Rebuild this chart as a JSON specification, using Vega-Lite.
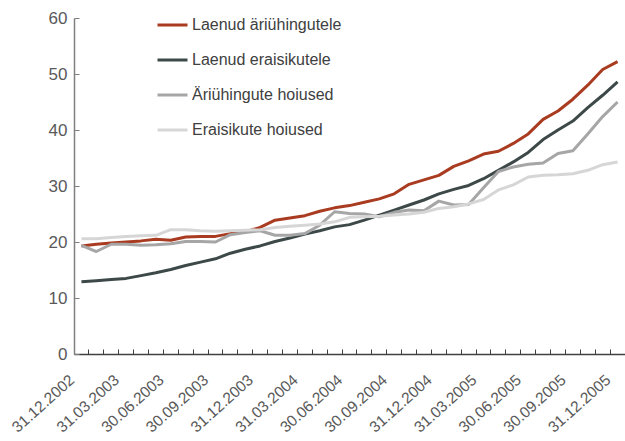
{
  "$schema": "https://vega.github.io/schema/vega-lite/v6.json",
  "width": 551,
  "height": 336,
  "autosize": {"type": "none"},
  "padding": {"left": 74, "top": 18, "right": 0, "bottom": 87},
  "background": "#ffffff",
  "config": {
    "view": {"stroke": null},
    "font": "Liberation Sans"
  },
  "data": {
    "values": [
      {"kuu": "31.12.2002", "Laenud äriühingutele": 19.3, "Laenud eraisikutele": 12.9, "Äriühingute hoiused": 19.4, "Eraisikute hoiused": 20.6},
      {"kuu": "31.01.2003", "Laenud äriühingutele": 19.6, "Laenud eraisikutele": 13.1, "Äriühingute hoiused": 18.3, "Eraisikute hoiused": 20.6},
      {"kuu": "28.02.2003", "Laenud äriühingutele": 19.8, "Laenud eraisikutele": 13.3, "Äriühingute hoiused": 19.6, "Eraisikute hoiused": 20.8},
      {"kuu": "31.03.2003", "Laenud äriühingutele": 20.0, "Laenud eraisikutele": 13.5, "Äriühingute hoiused": 19.6, "Eraisikute hoiused": 21.0},
      {"kuu": "30.04.2003", "Laenud äriühingutele": 20.2, "Laenud eraisikutele": 14.0, "Äriühingute hoiused": 19.4, "Eraisikute hoiused": 21.1},
      {"kuu": "31.05.2003", "Laenud äriühingutele": 20.5, "Laenud eraisikutele": 14.5, "Äriühingute hoiused": 19.5, "Eraisikute hoiused": 21.2},
      {"kuu": "30.06.2003", "Laenud äriühingutele": 20.3, "Laenud eraisikutele": 15.1, "Äriühingute hoiused": 19.7, "Eraisikute hoiused": 22.2},
      {"kuu": "31.07.2003", "Laenud äriühingutele": 20.9, "Laenud eraisikutele": 15.8, "Äriühingute hoiused": 20.1, "Eraisikute hoiused": 22.2},
      {"kuu": "31.08.2003", "Laenud äriühingutele": 21.0, "Laenud eraisikutele": 16.4, "Äriühingute hoiused": 20.1, "Eraisikute hoiused": 22.0},
      {"kuu": "30.09.2003", "Laenud äriühingutele": 21.0, "Laenud eraisikutele": 17.0, "Äriühingute hoiused": 20.0, "Eraisikute hoiused": 21.9},
      {"kuu": "31.10.2003", "Laenud äriühingutele": 21.5, "Laenud eraisikutele": 18.0, "Äriühingute hoiused": 21.3, "Eraisikute hoiused": 22.0},
      {"kuu": "30.11.2003", "Laenud äriühingutele": 21.8, "Laenud eraisikutele": 18.7, "Äriühingute hoiused": 21.7, "Eraisikute hoiused": 22.1},
      {"kuu": "31.12.2003", "Laenud äriühingutele": 22.6, "Laenud eraisikutele": 19.3, "Äriühingute hoiused": 22.0, "Eraisikute hoiused": 22.2},
      {"kuu": "31.01.2004", "Laenud äriühingutele": 23.9, "Laenud eraisikutele": 20.1, "Äriühingute hoiused": 21.2, "Eraisikute hoiused": 22.6},
      {"kuu": "29.02.2004", "Laenud äriühingutele": 24.3, "Laenud eraisikutele": 20.7, "Äriühingute hoiused": 21.2, "Eraisikute hoiused": 22.8},
      {"kuu": "31.03.2004", "Laenud äriühingutele": 24.7, "Laenud eraisikutele": 21.4, "Äriühingute hoiused": 21.5, "Eraisikute hoiused": 23.0},
      {"kuu": "30.04.2004", "Laenud äriühingutele": 25.5, "Laenud eraisikutele": 22.0, "Äriühingute hoiused": 23.0, "Eraisikute hoiused": 23.2},
      {"kuu": "31.05.2004", "Laenud äriühingutele": 26.1, "Laenud eraisikutele": 22.7, "Äriühingute hoiused": 25.4, "Eraisikute hoiused": 23.6},
      {"kuu": "30.06.2004", "Laenud äriühingutele": 26.5, "Laenud eraisikutele": 23.1, "Äriühingute hoiused": 25.1, "Eraisikute hoiused": 24.4},
      {"kuu": "31.07.2004", "Laenud äriühingutele": 27.1, "Laenud eraisikutele": 23.9, "Äriühingute hoiused": 25.0, "Eraisikute hoiused": 24.5},
      {"kuu": "31.08.2004", "Laenud äriühingutele": 27.7, "Laenud eraisikutele": 24.8, "Äriühingute hoiused": 24.5, "Eraisikute hoiused": 24.6},
      {"kuu": "30.09.2004", "Laenud äriühingutele": 28.6, "Laenud eraisikutele": 25.7, "Äriühingute hoiused": 25.3, "Eraisikute hoiused": 24.8},
      {"kuu": "31.10.2004", "Laenud äriühingutele": 30.3, "Laenud eraisikutele": 26.6, "Äriühingute hoiused": 25.7, "Eraisikute hoiused": 25.0},
      {"kuu": "30.11.2004", "Laenud äriühingutele": 31.1, "Laenud eraisikutele": 27.5, "Äriühingute hoiused": 25.6, "Eraisikute hoiused": 25.3},
      {"kuu": "31.12.2004", "Laenud äriühingutele": 31.9, "Laenud eraisikutele": 28.6, "Äriühingute hoiused": 27.3, "Eraisikute hoiused": 26.0},
      {"kuu": "31.01.2005", "Laenud äriühingutele": 33.5, "Laenud eraisikutele": 29.4, "Äriühingute hoiused": 26.6, "Eraisikute hoiused": 26.3},
      {"kuu": "28.02.2005", "Laenud äriühingutele": 34.5, "Laenud eraisikutele": 30.1, "Äriühingute hoiused": 26.7, "Eraisikute hoiused": 26.8},
      {"kuu": "31.03.2005", "Laenud äriühingutele": 35.7, "Laenud eraisikutele": 31.3, "Äriühingute hoiused": 29.7, "Eraisikute hoiused": 27.6},
      {"kuu": "30.04.2005", "Laenud äriühingutele": 36.2, "Laenud eraisikutele": 32.8, "Äriühingute hoiused": 32.6, "Eraisikute hoiused": 29.3},
      {"kuu": "31.05.2005", "Laenud äriühingutele": 37.6, "Laenud eraisikutele": 34.3, "Äriühingute hoiused": 33.4, "Eraisikute hoiused": 30.2},
      {"kuu": "30.06.2005", "Laenud äriühingutele": 39.3, "Laenud eraisikutele": 36.0, "Äriühingute hoiused": 33.9, "Eraisikute hoiused": 31.6},
      {"kuu": "31.07.2005", "Laenud äriühingutele": 41.9, "Laenud eraisikutele": 38.3, "Äriühingute hoiused": 34.1, "Eraisikute hoiused": 31.9},
      {"kuu": "31.08.2005", "Laenud äriühingutele": 43.4, "Laenud eraisikutele": 40.0, "Äriühingute hoiused": 35.8, "Eraisikute hoiused": 32.0},
      {"kuu": "30.09.2005", "Laenud äriühingutele": 45.5, "Laenud eraisikutele": 41.6, "Äriühingute hoiused": 36.3, "Eraisikute hoiused": 32.2},
      {"kuu": "31.10.2005", "Laenud äriühingutele": 48.0, "Laenud eraisikutele": 44.0, "Äriühingute hoiused": 39.3, "Eraisikute hoiused": 32.8},
      {"kuu": "30.11.2005", "Laenud äriühingutele": 50.8, "Laenud eraisikutele": 46.2, "Äriühingute hoiused": 42.4, "Eraisikute hoiused": 33.8},
      {"kuu": "31.12.2005", "Laenud äriühingutele": 52.2, "Laenud eraisikutele": 48.6, "Äriühingute hoiused": 45.0, "Eraisikute hoiused": 34.3}
    ]
  },
  "transform": [
    {"fold": ["Laenud äriühingutele", "Laenud eraisikutele", "Äriühingute hoiused", "Eraisikute hoiused"], "as": ["seeria", "vaartus"]}
  ],
  "mark": {"type": "line", "strokeWidth": 3, "strokeJoin": "round"},
  "encoding": {
    "x": {
      "field": "kuu",
      "type": "ordinal",
      "sort": null,
      "scale": {"type": "band", "paddingInner": 0, "paddingOuter": 0},
      "axis": {
        "title": null,
        "bandPosition": 0,
        "labelExpr": "test(/\\.(03|06|09|12)\\./, datum.value) ? datum.value : ''",
        "labelAngle": -42,
        "labelAlign": "right",
        "labelBaseline": "top",
        "labelPadding": 23,
        "labelOffset": -14,
        "labelFontSize": 15.5,
        "labelColor": "#595959",
        "labelOverlap": false,
        "labelFont": "Liberation Sans",
        "tickSize": -5,
        "tickColor": "#404040",
        "domainColor": "#404040",
        "domainWidth": 1.5,
        "grid": false
      }
    },
    "y": {
      "field": "vaartus",
      "type": "quantitative",
      "scale": {"domain": [0, 60], "nice": false},
      "axis": {
        "title": null,
        "values": [0, 10, 20, 30, 40, 50, 60],
        "labelFontSize": 17,
        "labelColor": "#595959",
        "labelPadding": 12,
        "labelFont": "Liberation Sans",
        "tickSize": -5,
        "tickColor": "#7f7f7f",
        "domainColor": "#7f7f7f",
        "domainWidth": 1.5,
        "grid": false
      }
    },
    "color": {
      "field": "seeria",
      "type": "nominal",
      "sort": ["Laenud äriühingutele", "Laenud eraisikutele", "Äriühingute hoiused", "Eraisikute hoiused"],
      "scale": {
        "domain": ["Laenud äriühingutele", "Laenud eraisikutele", "Äriühingute hoiused", "Eraisikute hoiused"],
        "range": ["#A93B20", "#3D4848", "#A6A6A6", "#D6D6D6"]
      },
      "legend": {
        "title": null,
        "orient": "none",
        "legendX": 82,
        "legendY": -9.5,
        "padding": 0,
        "symbolType": "stroke",
        "symbolSize": 900,
        "symbolStrokeWidth": 3,
        "labelFontSize": 16,
        "labelColor": "#404040",
        "labelFont": "Liberation Sans",
        "labelOffset": 3,
        "rowPadding": 10
      }
    }
  }
}
